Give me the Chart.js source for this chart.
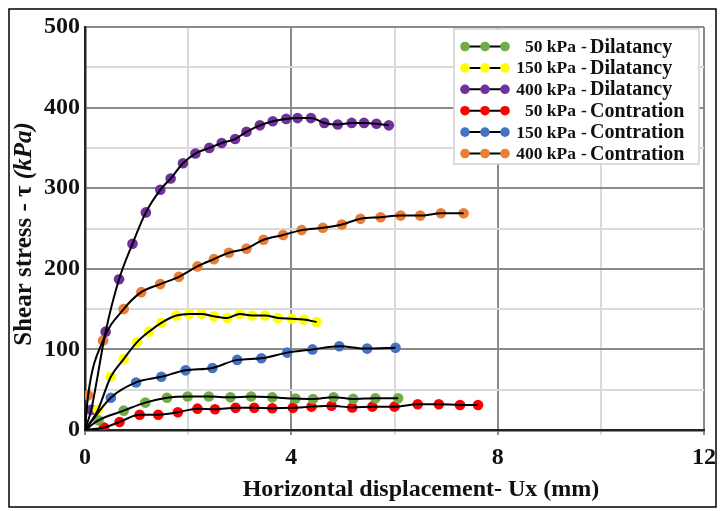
<!DOCTYPE html>
<html>
<head>
<meta charset="utf-8">
<script src="https://cdn.jsdelivr.net/npm/chart.js@4/dist/chart.umd.min.js"></script>
<style>
  html, body { margin: 0; padding: 0; background: #fff; }
  #wrap { width: 724px; height: 511px; position: relative; }
</style>
</head>
<body>
<div id="wrap"><canvas id="c" width="724" height="511"></canvas></div>
<script>
// ---- data ----
const xTickLabels = [0, 4, 8, 12];
const yTickLabels = [0, 100, 200, 300, 400, 500];

const pressures = ['50 kPa', '150 kPa', '400 kPa', '50 kPa', '150 kPa', '400 kPa'];
const modes = ['Dilatancy', 'Dilatancy', 'Dilatancy', 'Contration', 'Contration', 'Contration'];
const seriesColors = ['#70ad47', '#ffff00', '#7030a0', '#ff0000', '#4472c4', '#ed7d31'];

const dil50X = [0, 0.26, 0.75, 1.17, 1.59, 1.99, 2.40, 2.82, 3.22, 3.63, 4.08, 4.42, 4.82, 5.20, 5.63, 6.07];
const dil50Y = [0, 12, 24, 34, 40, 41.5, 41.5, 40.5, 41.5, 40.5, 39, 38.5, 40.7, 38.6, 39.4, 39.4];

const dil150X = [0, 0.25, 0.50, 0.75, 1.01, 1.24, 1.48, 1.77, 2.02, 2.26, 2.50, 2.76, 3.00, 3.24, 3.49, 3.74, 4.01, 4.24, 4.49];
const dil150Y = [0, 25, 66, 88, 109, 122, 133, 142, 144, 144, 141, 139, 144, 142, 142, 139, 138, 137, 134];

const dil400X = [0, 0.12, 0.40, 0.66, 0.92, 1.18, 1.46, 1.66, 1.90, 2.14, 2.41, 2.65, 2.91, 3.13, 3.39, 3.64, 3.90, 4.12, 4.38, 4.64, 4.90, 5.17, 5.41, 5.65, 5.89];
const dil400Y = [0, 25, 122, 187, 231, 270, 298, 312, 331, 343, 350, 356, 361, 370, 378, 383, 386, 387, 387, 381, 379, 381, 381, 380, 378];

const con50X = [0, 0.37, 0.67, 1.06, 1.42, 1.80, 2.18, 2.52, 2.92, 3.28, 3.63, 4.03, 4.39, 4.78, 5.18, 5.57, 6.00, 6.45, 6.86, 7.27, 7.62];
const con50Y = [0, 3, 10, 19, 19, 22, 26.5, 25.7, 27.5, 27.5, 27, 27.5, 29, 30, 28, 29, 29, 32, 32, 31, 31];

const con150X = [0, 0.50, 0.99, 1.48, 1.95, 2.47, 2.95, 3.42, 3.92, 4.41, 4.93, 5.47, 6.02];
const con150Y = [0, 40, 59, 66, 74, 77, 87, 89, 96, 100, 104, 101, 102];

const con400X = [0, 0.06, 0.35, 0.75, 1.09, 1.46, 1.82, 2.18, 2.50, 2.79, 3.13, 3.46, 3.84, 4.20, 4.61, 4.98, 5.34, 5.73, 6.12, 6.50, 6.90, 7.34];
const con400Y = [0, 43, 111, 150, 171, 181, 190, 203, 212, 220, 225, 236, 242, 248, 251, 255, 262, 264, 266, 266, 269, 269];

const seriesX = [dil50X, dil150X, dil400X, con50X, con150X, con400X];
const seriesY = [dil50Y, dil150Y, dil400Y, con50Y, con150Y, con400Y];

// ---- build datasets ----
function pts(xs, ys) { return xs.map((x, i) => ({ x: x, y: ys[i] })); }
const datasets = [];
seriesX.forEach((xs, i) => {
  datasets.push({
    label: pressures[i] + ' - ' + modes[i],
    data: pts(xs, seriesY[i]),
    showLine: false,
    pointRadius: 5.3,
    pointHoverRadius: 5.3,
    pointBorderWidth: 0,
    pointBackgroundColor: seriesColors[i],
    backgroundColor: seriesColors[i],
    order: 2
  });
});
seriesX.forEach((xs, i) => {
  datasets.push({
    label: 'fit ' + i,
    data: pts(xs, seriesY[i]),
    showLine: true,
    borderColor: '#000',
    borderWidth: 2,
    pointRadius: 0,
    cubicInterpolationMode: 'monotone',
    fill: false,
    order: 1
  });
});

const SERIF = '"Liberation Serif", "DejaVu Serif", serif';

const decor = {
  id: 'decor',
  beforeDraw(chart) {
    const ctx = chart.ctx;
    ctx.save();
    ctx.fillStyle = '#fff';
    ctx.fillRect(0, 0, chart.width, chart.height);
    ctx.restore();
  },
  afterDraw(chart) {
    const ctx = chart.ctx;
    const ca = chart.chartArea;
    ctx.save();
    // outer frame
    ctx.strokeStyle = '#000';
    ctx.lineWidth = 1.5;
    ctx.strokeRect(9, 9, 707, 498);

    // y-axis title (mixed style)
    ctx.translate(25, 234);
    ctx.rotate(-Math.PI / 2);
    ctx.fillStyle = '#111';
    ctx.textBaseline = 'middle';
    const p1 = 'Shear stress - \u03c4 ';
    const p2 = '(kPa)';
    const fs = 25;
    ctx.font = 'bold ' + fs + 'px ' + SERIF;
    const w1 = ctx.measureText(p1).width;
    ctx.font = 'italic bold ' + fs + 'px ' + SERIF;
    const w2 = ctx.measureText(p2).width;
    const start = -(w1 + w2) / 2;
    ctx.textAlign = 'left';
    ctx.font = 'bold ' + fs + 'px ' + SERIF;
    ctx.fillText(p1, start, 0);
    ctx.font = 'italic bold ' + fs + 'px ' + SERIF;
    ctx.fillText(p2, start + w1, 0);
    ctx.restore();

    // x-axis title
    ctx.save();
    ctx.fillStyle = '#111';
    ctx.font = 'bold 24px ' + SERIF;
    ctx.textAlign = 'center';
    ctx.textBaseline = 'middle';
    ctx.fillText('Horizontal displacement- Ux (mm)', 421, 490);
    ctx.restore();

    // legend box
    ctx.save();
    ctx.fillStyle = '#fff';
    ctx.fillRect(454, 29, 245, 135);
    ctx.strokeStyle = '#cfcfcf';
    ctx.lineWidth = 1.5;
    ctx.strokeRect(454, 29, 245, 135);
    for (let i = 0; i < 6; i++) {
      const y = 46.5 + i * 21.4;
      ctx.strokeStyle = '#000';
      ctx.lineWidth = 2;
      ctx.beginPath(); ctx.moveTo(465, y); ctx.lineTo(505, y); ctx.stroke();
      ctx.fillStyle = seriesColors[i];
      [465, 485, 505].forEach(cx => { ctx.beginPath(); ctx.arc(cx, y, 4.8, 0, Math.PI * 2); ctx.fill(); });
      ctx.fillStyle = '#111';
      ctx.textBaseline = 'middle';
      ctx.font = 'bold 17.5px ' + SERIF;
      ctx.textAlign = 'right';
      ctx.fillText(pressures[i], 576, y + 1);
      ctx.textAlign = 'center';
      ctx.fillText('-', 584, y + 1);
      ctx.textAlign = 'left';
      ctx.font = 'bold 20px ' + SERIF;
      ctx.fillText(modes[i], 590, y + 1);
    }
    ctx.restore();
  }
};

new Chart(document.getElementById('c'), {
  type: 'scatter',
  data: { datasets: datasets },
  options: {
    responsive: false,
    animation: false,
    events: [],
    layout: { padding: { top: 27, right: 16, left: 0, bottom: 0 } },
    plugins: { legend: { display: false }, tooltip: { enabled: false } },
    scales: {
      x: {
        type: 'linear', min: 0, max: 12,
        afterFit(scale) { scale.height = 81; },
        afterBuildTicks(scale) { scale.ticks = [0, 2, 4, 6, 8, 10, 12].map(v => ({ value: v })); },
        ticks: {
          autoSkip: false, maxRotation: 0, padding: 8,
          color: '#111',
          font: { family: SERIF, size: 24, weight: 'bold' },
          callback: (v) => xTickLabels.includes(v) ? String(v) : ''
        },
        grid: {
          color: (c) => (c.tick && c.tick.value % 4 === 0) ? '#8a8a8a' : '#dadada',
          lineWidth: 2,
          tickLength: 5,
          drawTicks: true
        },
        border: { display: true, color: '#222', width: 2.5 }
      },
      y: {
        type: 'linear', min: 0, max: 500,
        afterFit(scale) { scale.width = 85; },
        afterBuildTicks(scale) { const t = []; for (let v = 0; v <= 500; v += 50) t.push({ value: v }); scale.ticks = t; },
        ticks: {
          autoSkip: false, padding: 5,
          color: '#111',
          font: { family: SERIF, size: 24, weight: 'bold' },
          callback: (v) => yTickLabels.includes(v) ? String(v) : ''
        },
        grid: {
          color: (c) => (c.tick && c.tick.value % 100 === 0) ? '#8a8a8a' : '#dadada',
          lineWidth: 2,
          drawTicks: false
        },
        border: { display: true, color: '#222', width: 2.5 }
      }
    }
  },
  plugins: [decor]
});
</script>
</body>
</html>
